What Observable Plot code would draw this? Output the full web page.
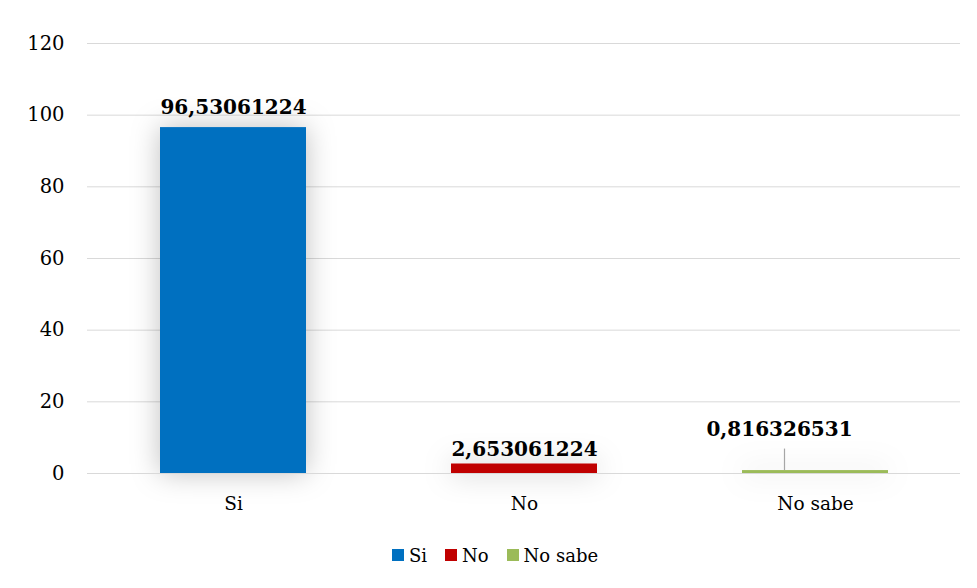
<!DOCTYPE html>
<html>
<head>
<meta charset="utf-8">
<script src="https://cdn.jsdelivr.net/npm/d3@7"></script>
<script src="https://cdn.jsdelivr.net/npm/@observablehq/plot@0.6"></script>
<style>
  body { margin: 0; background: #fff; font-family: "DejaVu Serif", serif; }
  #chart svg { display: block; overflow: visible; }
  #legend { display: flex; justify-content: center; align-items: center; gap: 18px; font-size: 18px; color: #000; height: 40px; margin-top: 5px; margin-left: 13px; }
  #legend .item { display: flex; align-items: center; gap: 5px; }
  #legend .sw { width: 12px; height: 12px; display: inline-block; }
</style>
</head>
<body>
<div id="chart"></div>
<div id="legend"></div>
<script>
const categories = ["Si", "No", "No sabe"];
const values = [96.53061224, 2.653061224, 0.816326531];
const labels = ["96,53061224", "2,653061224", "0,816326531"];
const colors = ["#0070C0", "#C00000", "#9BBB59"];
const yTicks = [0, 20, 40, 60, 80, 100, 120];

const data = categories.map((c, i) => ({ cat: c, value: values[i], label: labels[i] }));
const labelStyle = { x: "cat", text: "label", lineAnchor: "bottom", fontWeight: "bold", fontSize: 20, fill: "#000" };

const chart = Plot.plot({
  width: 977,
  height: 530,
  marginLeft: 87,
  marginRight: 17,
  marginTop: 43,
  marginBottom: 57,
  style: { fontFamily: "DejaVu Serif, serif", fontSize: "18px", color: "#000" },
  x: { domain: categories, paddingInner: 0.5, paddingOuter: 0.25, label: null },
  y: { domain: [0, 120], ticks: yTicks, label: null },
  color: { domain: categories, range: colors },
  marks: [
    Plot.gridY(yTicks, { stroke: "#d9d9d9", strokeOpacity: 1, strokeWidth: 1 }),
    Plot.axisY(yTicks, { tickSize: 0, tickPadding: 23, fontSize: 19.5, tickFormat: d => String(d), label: null }),
    Plot.axisX({ tickSize: 0, tickPadding: 23, fontSize: 18.5, label: null }),
    Plot.barY(data, { x: "cat", y: "value", fill: "cat", imageFilter: "drop-shadow(0 0 14px rgba(0,0,0,0.25))" }),
    Plot.ruleY([0], { stroke: "#d9d9d9" }),
    Plot.text(data.slice(0, 1), { ...labelStyle, y: "value", dy: -14 }),
    Plot.text(data.slice(1, 2), { ...labelStyle, y: "value", dy: -8 }),
    Plot.ruleX(data.slice(2), { x: "cat", y1: "value", y2: d => d.value + 6, dx: -31, stroke: "#a6a6a6", strokeWidth: 1.2 }),
    Plot.text(data.slice(2), { ...labelStyle, y: d => d.value + 6, dx: -36, dy: -13 })
  ]
});
document.getElementById("chart").appendChild(chart);

const legend = d3.select("#legend");
categories.forEach((c, i) => {
  const item = legend.append("div").attr("class", "item");
  item.append("span").attr("class", "sw").style("background", colors[i]);
  item.append("span").text(c);
});
</script>
</body>
</html>
